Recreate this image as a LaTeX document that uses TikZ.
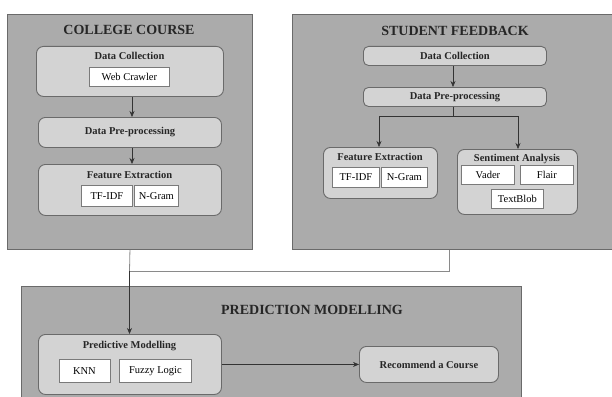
\documentclass[tikz,border=0pt]{standalone}
\usepackage{fontspec}
\setmainfont{Liberation Serif}
\usetikzlibrary{arrows.meta,positioning,calc}
\definecolor{panelgray}{HTML}{ABABAB}
\definecolor{boxgray}{HTML}{D3D3D3}
\definecolor{edgegray}{HTML}{6A6A6A}
\definecolor{wedge}{HTML}{7A7A7A}
\definecolor{linkgray}{HTML}{8A8A8A}
\tikzset{
  panel/.style={draw=edgegray, fill=panelgray, line width=0.9pt, anchor=north west, inner sep=0pt},
  rbox/.style={draw=edgegray, fill=boxgray, line width=0.9pt, rounded corners=7pt, anchor=north west, inner sep=0pt},
  wbox/.style={draw=wedge, fill=white, line width=0.8pt, anchor=north west, inner sep=0pt, font=\fontsize{10.5}{12}\selectfont},
  ptitle/.style={font=\fontsize{14}{16}\selectfont\bfseries, text=black!85},
  btitle/.style={font=\fontsize{10.5}{12}\selectfont\bfseries, text=black!85},
  arr/.style={-{Stealth[length=6pt,width=5pt]}, line width=0.6pt, black!80},
  link/.style={line width=0.8pt, draw=linkgray},
}
\begin{document}
\begin{tikzpicture}[x=1pt,y=-1pt]
\useasboundingbox (0,0) rectangle (612,396);
% panels
\node[panel, minimum width=245pt, minimum height=235pt] (p1) at (7,14) {};
\node[panel, minimum width=322pt, minimum height=235pt] (p2) at (292,14) {};
\node[panel, minimum width=500pt, minimum height=112pt] (p3) at (21,286) {};
% panel titles
\node[ptitle] (t1) at (129,30) {COLLEGE COURSE};
\node[ptitle] (t2) at (455,31) {STUDENT FEEDBACK};
\node[ptitle] (t3) at (312,310) {PREDICTION MODELLING};

% College course
\node[rbox, minimum width=187pt, minimum height=50pt] (cdc) at (36,46) {};
\node[btitle] (cdct) at (129.5,56) {Data Collection};
\node[wbox, minimum width=80pt, minimum height=19pt] (cweb) at (89,67) {Web Crawler};
\node[rbox, minimum width=183pt, minimum height=30pt] (cdp) at (38,117) {};
\node[btitle] (cdpt) at (cdp.center) {Data Pre-processing};
\node[rbox, minimum width=183pt, minimum height=51pt] (cfe) at (38,164) {};
\node[btitle] (cfet) at (129.5,175) {Feature Extraction};
\node[wbox, minimum width=51pt, minimum height=21pt] (ctf) at (81,185) {TF-IDF};
\node[wbox, minimum width=44pt, minimum height=21pt] (cng) at (134,185) {N-Gram};
\draw[arr] (cdc.south -| 132,0) -- (cdp.north -| 132,0);
\draw[arr] (cdp.south -| 132,0) -- (cfe.north -| 132,0);

% Student feedback
\node[rbox, rounded corners=5pt, minimum width=183pt, minimum height=19pt] (sdc) at (363,46) {};
\node[btitle] (sdct) at (sdc.center) {Data Collection};
\node[rbox, rounded corners=5pt, minimum width=183pt, minimum height=19pt] (sdp) at (363,87) {};
\node[btitle] (sdpt) at (sdp.center) {Data Pre-processing};
\node[rbox, minimum width=114pt, minimum height=51pt] (sfe) at (323,147) {};
\node[btitle] (sfet) at (380,157) {Feature Extraction};
\node[wbox, minimum width=47pt, minimum height=20pt] (stf) at (332,167) {TF-IDF};
\node[wbox, minimum width=46pt, minimum height=20pt] (sng) at (381,167) {N-Gram};
\node[rbox, minimum width=120pt, minimum height=65pt] (ssa) at (457,149) {};
\node[btitle] (ssat) at (517,159) {Sentiment Analysis};
\node[wbox, minimum width=53pt, minimum height=19pt] (svd) at (461,165) {Vader};
\node[wbox, minimum width=53pt, minimum height=19pt] (sfl) at (520,165) {Flair};
\node[wbox, minimum width=52pt, minimum height=19pt] (stb) at (491,189) {TextBlob};
\draw[arr] (sdc.south -| 453,0) -- (sdp.north -| 453,0);
\coordinate (split) at (453,116);
\draw[line width=0.6pt, black!80] (sdp.south -| 453,0) -- (split);
\draw[arr] (split) -| (sfe.north -| 379,0);
\draw[arr] (split) -| (ssa.north -| 518,0);

% links between panels
\coordinate (jn) at (129.5,271);
\draw[link] ([xshift=-4pt]p2.south) |- (jn);
\draw[link] (p1.south) -- (jn);
\draw[arr] (jn) -- (129.5,334);

% Prediction modelling
\node[rbox, minimum width=183pt, minimum height=60pt] (ppm) at (38,334) {};
\node[btitle] (ppmt) at (129.5,346) {Predictive Modelling};
\node[wbox, minimum width=51pt, minimum height=23pt] (pknn) at (58.5,359) {KNN};
\node[wbox, minimum width=72pt, minimum height=23pt] (pfz) at (119,359) {Fuzzy Logic};
\node[rbox, minimum width=139pt, minimum height=36pt] (prc) at (359,346) {};
\node[btitle] (prct) at (prc.center) {Recommend a Course};
\draw[arr] (ppm.east |- prc.west) -- (prc.west);
\end{tikzpicture}
\end{document}
